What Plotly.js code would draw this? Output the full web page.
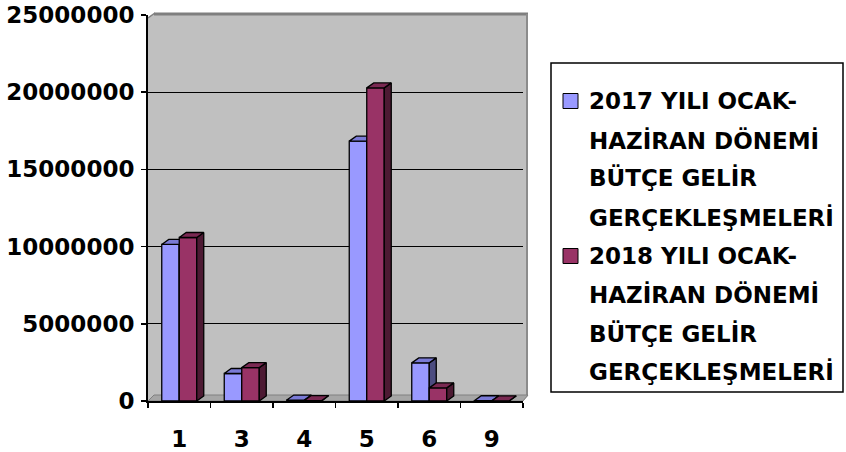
<!DOCTYPE html>
<html>
<head>
<meta charset="utf-8">
<script src="https://cdn.plot.ly/plotly-3.0.1.min.js"></script>
<style>html,body{margin:0;padding:0;background:#fff;}#chart{width:846px;height:452px;}</style>
</head>
<body>
<div id="chart"></div>
<script>
// ---- data ----
var categories = ['1', '3', '4', '5', '6', '9'];
var values2017 = [10140000, 1780000, 60000, 16830000, 2470000, 15000];
var values2018 = [10590000, 2160000, 30000, 20280000, 850000, 10000];
var seriesNames = ['2017 YILI OCAK-HAZİRAN DÖNEMİ BÜTÇE GELİR GERÇEKLEŞMELERİ',
                   '2018 YILI OCAK-HAZİRAN DÖNEMİ BÜTÇE GELİR GERÇEKLEŞMELERİ'];
var legendLines = [
  ['2017 YILI OCAK-', 'HAZİRAN DÖNEMİ', 'BÜTÇE GELİR', 'GERÇEKLEŞMELERİ'],
  ['2018 YILI OCAK-', 'HAZİRAN DÖNEMİ', 'BÜTÇE GELİR', 'GERÇEKLEŞMELERİ']
];
var yTicks = [0, 5000000, 10000000, 15000000, 20000000, 25000000];

// ---- style ----
var FONT = 'DejaVu Sans, sans-serif';
var frontColors = ['#9999ff', '#993366'];
var topColors = ['#7a7ad6', '#7a2952'];
var sideColors = ['#4c4c80', '#4d1a33'];
var W = 846, H = 452, ML = 148, MR = 323, MT = 15, MB = 51;
var PW = W - ML - MR, PH = H - MT - MB;
var barW = 0.28;
var yMax = 25000000;
var dx = 7 / (PW / categories.length);   // depth in x units
var dy = 5 * yMax / PH;                   // depth in y units

var xIdx = categories.map(function (c, i) { return i; });

function faces(vals, offset) {
  var side = {x: [], y: []}, top = {x: [], y: []};
  vals.forEach(function (v, i) {
    var x0 = i + offset, x1 = x0 + barW;
    side.x.push(x1, x1 + dx, x1 + dx, x1, x1, null);
    side.y.push(0, dy, v + dy, v, 0, null);
    top.x.push(x0, x0 + dx, x1 + dx, x1, x0, null);
    top.y.push(v, v + dy, v + dy, v, v, null);
  });
  return {side: side, top: top};
}

var series = [values2017, values2018];
var offsets = [-barW, 0];
var axes = [['x', 'y'], ['x2', 'y2']];
var traces = [];
series.forEach(function (vals, s) {
  traces.push({
    type: 'bar', x: xIdx, y: vals, width: barW, offset: offsets[s],
    name: seriesNames[s], xaxis: axes[s][0], yaxis: axes[s][1],
    marker: {color: frontColors[s], line: {color: '#000', width: 1.3}},
    hoverinfo: 'skip', showlegend: false
  });
  var f = faces(vals, offsets[s]);
  traces.push({
    type: 'scatter', mode: 'lines', x: f.side.x, y: f.side.y, fill: 'toself',
    fillcolor: sideColors[s], line: {color: '#000', width: 1.3},
    xaxis: axes[s][0], yaxis: axes[s][1], hoverinfo: 'skip', showlegend: false
  });
  traces.push({
    type: 'scatter', mode: 'lines', x: f.top.x, y: f.top.y, fill: 'toself',
    fillcolor: topColors[s], line: {color: '#000', width: 1.3},
    xaxis: axes[s][0], yaxis: axes[s][1], hoverinfo: 'skip', showlegend: false
  });
});

// paper helpers
function px2x(p) { return (p - ML) / PW; }
function px2y(p) { return 1 - (p - MT) / PH; }

var shapes = [
  // back wall
  {type: 'path', xref: 'paper', yref: 'paper', layer: 'below',
   path: 'M' + px2x(148) + ',' + px2y(401) + ' L' + px2x(148) + ',' + px2y(17) +
         ' L' + px2x(154) + ',' + px2y(13) + ' L' + px2x(528) + ',' + px2y(13) +
         ' L' + px2x(528) + ',' + px2y(396) + ' L' + px2x(523) + ',' + px2y(401) + ' Z',
   fillcolor: '#c0c0c0', line: {width: 0}},
  // wall top border
  {type: 'line', xref: 'paper', yref: 'paper', layer: 'below',
   x0: px2x(154), x1: px2x(528), y0: px2y(14), y1: px2y(14), line: {color: '#7f7f7f', width: 3}},
  {type: 'line', xref: 'paper', yref: 'paper', layer: 'below',
   x0: px2x(527), x1: px2x(527), y0: px2y(14), y1: px2y(396), line: {color: '#8c8c8c', width: 2}},
  {type: 'line', xref: 'paper', yref: 'paper', layer: 'below',
   x0: px2x(148), x1: px2x(155), y0: px2y(18), y1: px2y(13), line: {color: '#7f7f7f', width: 1.5}},
  // floor
  {type: 'path', xref: 'paper', yref: 'paper', layer: 'below',
   path: 'M' + px2x(148) + ',' + px2y(401) + ' L' + px2x(154) + ',' + px2y(395) +
         ' L' + px2x(528) + ',' + px2y(395) + ' L' + px2x(523) + ',' + px2y(401) + ' Z',
   fillcolor: '#a6a6a6', line: {color: '#808080', width: 1}}
];

// legend (drawn as a box, swatches and text lines)
var annotations = [];
shapes.push({type: 'rect', xref: 'paper', yref: 'paper',
  x0: px2x(551), x1: px2x(843), y0: px2y(63), y1: px2y(392),
  line: {color: '#000', width: 1.5}, fillcolor: 'rgba(0,0,0,0)'});
var lineYs = [[101, 140, 178, 217], [256, 294, 333, 371]];
legendLines.forEach(function (lines, s) {
  var cy = lineYs[s][0];
  shapes.push({type: 'rect', xref: 'paper', yref: 'paper',
    x0: px2x(563), x1: px2x(578), y0: px2y(cy - 7.5), y1: px2y(cy + 7.5),
    fillcolor: frontColors[s], line: {color: '#000', width: 1}});
  lines.forEach(function (t, k) {
    annotations.push({xref: 'paper', yref: 'paper', x: px2x(587), y: px2y(lineYs[s][k]),
      xanchor: 'left', yanchor: 'middle', showarrow: false, text: t,
      font: {family: FONT, size: 23, color: '#000', weight: 'bold'}});
  });
});

var layout = {
  width: W, height: H,
  margin: {l: ML, r: MR, t: MT, b: MB, pad: 0},
  paper_bgcolor: '#ffffff', plot_bgcolor: 'rgba(0,0,0,0)',
  showlegend: false, bargap: 0,
  font: {family: FONT, size: 23, color: '#000', weight: 'bold'},
  xaxis: {
    type: 'linear', range: [-0.5, categories.length - 0.5], fixedrange: true,
    tickvals: xIdx, ticktext: categories, ticks: 'outside', ticklen: 6,
    tickcolor: 'rgba(0,0,0,0)', ticklabelstandoff: 10,
    showgrid: false, zeroline: false, showline: true, linecolor: '#000', linewidth: 2,
    minor: {tick0: -0.5, dtick: 1, ticks: 'outside', ticklen: 5, tickcolor: '#000', tickwidth: 1.5, showgrid: false},
    tickfont: {family: FONT, size: 23, color: '#000', weight: 'bold'}
  },
  yaxis: {
    range: [0, yMax], fixedrange: true, tickvals: yTicks, tickformat: 'd',
    ticks: 'outside', ticklen: 5, tickcolor: '#000', tickwidth: 1.5, ticklabelstandoff: 2,
    showgrid: true, gridcolor: '#000', gridwidth: 1,
    zeroline: false, showline: true, linecolor: '#000', linewidth: 2,
    tickfont: {family: FONT, size: 23, color: '#000', weight: 'bold'}
  },
  xaxis2: {overlaying: 'x', matches: 'x', visible: false, range: [-0.5, categories.length - 0.5]},
  yaxis2: {overlaying: 'y', matches: 'y', visible: false, range: [0, yMax]},
  shapes: shapes,
  annotations: annotations
};

Plotly.newPlot('chart', traces, layout, {displayModeBar: false, staticPlot: true});
</script>
</body>
</html>
